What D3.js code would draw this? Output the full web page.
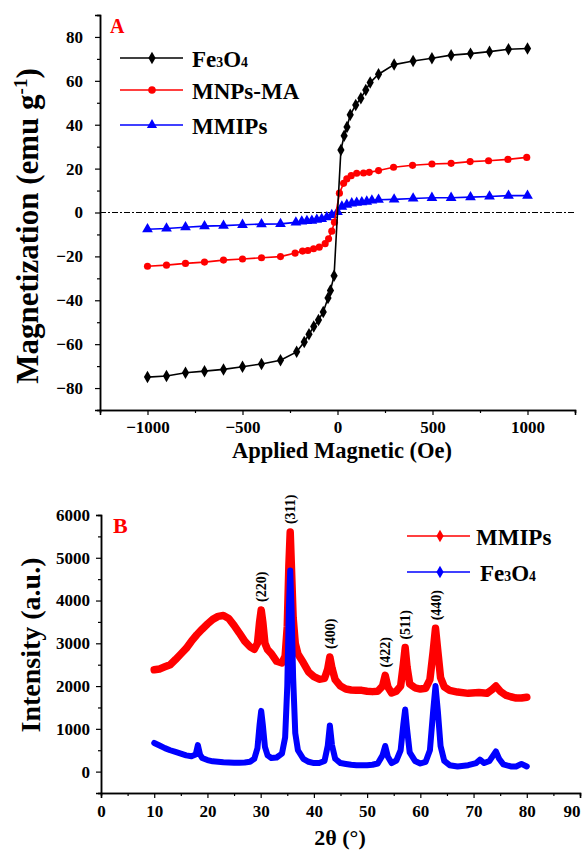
<!DOCTYPE html>
<html>
<head>
<meta charset="UTF-8">
<script src="https://d3js.org/d3.v7.min.js"></script>
<style>
  body { margin: 0; background: #fff; }
  text { font-family: "Liberation Serif", "DejaVu Serif", serif; font-weight: bold; }
</style>
</head>
<body>
<div id="chart"></div>
<script>
// ---- panel A: magnetization loops ----
var fieldFe = [-1000,-900,-800,-700,-600,-500,-400,-300,-215,-175,-150,-125,-100,-75,-50,-37,-18,
               18,35,50,67,96,123,149,172,216,298,398,497,598,700,800,900,1000];
var magFe = [-75,-74.5,-73,-72.3,-71.5,-70.3,-69,-67.3,-63.5,-59,-55.5,-52,-49,-45.3,-39,-35.5,-28.8,
             28.5,35,39,44.5,49,52.1,55.8,59.2,63,67.4,69,70.3,71.7,72.4,73.3,74.4,74.7];

var fieldMA = [-1000,-900,-800,-700,-600,-500,-400,-300,-223,-184,-156,-126,-96,-65,-47,-30,-16,
               10,32,49,72,101,137,167,216,295,395,497,598,698,795,897,996];
var magMA = [-24.5,-24,-23.2,-22.6,-21.7,-21.2,-20.6,-20.1,-18.5,-17.6,-17.3,-16.5,-15.8,-14.2,-12,-8.5,-4.4,
             8.8,13.3,15.3,16.8,17.9,18,18.3,19.1,20.6,21.5,22.1,22.4,23.2,23.6,24.2,25.1];

var fieldMIP = [-1000,-900,-800,-700,-600,-500,-400,-300,-219,-188,-161,-135,-109,-83,-56,-30,
                0,23,49,75,101,128,154,181,216,298,398,497,598,700,800,900,1000];
var magMIP = [-7.6,-7.3,-6.7,-6.2,-6,-5.6,-5.3,-5.2,-4.5,-4.1,-3.8,-3.7,-3.3,-2.9,-2.1,-1.1,
              0.3,2.7,3.6,4.2,4.5,4.7,5,5.5,5.8,6,6.4,6.7,6.7,7,7.3,7.7,7.7];

var xTicksA = [-1000,-500,0,500,1000];
var yTicksA = [-80,-60,-40,-20,0,20,40,60,80];

// ---- panel B: XRD patterns ----
var thetaMIP = [10,11,12,13,14,15,16,17,18,19,20,21,22,23,24,25,26,27,28,28.8,29.4,29.8,30.1,30.4,30.8,31.3,
  32,33,34,34.6,35,35.3,35.55,35.8,36.1,36.5,37,38,39,40,41,42,42.6,43,43.4,44,45,46,47,48,49,50,51,52,
  52.9,53.4,53.9,54.6,55.5,56.3,56.8,57.15,57.5,58,59,60,61,61.8,62.4,62.85,63.3,63.8,64.5,65.5,67,69,71,
  72.5,73.5,74.2,75,76,77,78,79,80];
var intMIP = [2380,2400,2450,2500,2620,2750,2880,3050,3200,3330,3450,3560,3630,3650,3580,3420,3240,3050,2920,2860,3000,3500,3780,3500,3000,2850,
  2760,2580,2540,2700,3400,4800,5600,4700,3600,3000,2750,2550,2330,2220,2160,2180,2400,2680,2420,2150,2000,1930,1910,1900,1900,1880,1870,1880,
  2000,2250,1980,1840,1880,2000,2500,2900,2450,2050,1960,1930,1950,2150,2800,3350,2800,2200,1980,1900,1860,1830,1850,
  1830,1920,2000,1880,1790,1750,1720,1720,1740];

var thetaFe = [10,11,12,13,14,15,16,17,17.8,18.2,18.6,19,20,21,22,23,24,25,26,27,28,28.8,29.4,29.8,30.1,30.4,30.8,31.3,
  32,33,34,34.6,35,35.3,35.55,35.8,36.1,36.5,37,38,39,40,41,42,42.6,43,43.4,44,45,46,47,48,49,50,51,52,
  52.9,53.4,53.9,54.6,55.5,56.3,56.8,57.15,57.5,58,59,60,61,61.8,62.4,62.85,63.3,63.8,64.5,65.5,67,69,70.5,
  71.2,72,73,73.7,74.2,74.8,75.6,77,78,79,80];
var intFe = [670,610,550,500,460,420,380,360,400,620,400,320,270,240,230,220,215,210,210,215,230,300,550,1100,1420,1100,580,380,
  320,330,420,800,2000,3800,4700,3800,2200,900,500,300,230,200,200,250,600,1080,620,300,200,180,160,150,150,150,160,190,
  380,600,350,200,260,500,1100,1450,1000,450,250,190,230,500,1400,2000,1400,600,250,150,120,150,200,
  280,200,250,380,470,300,170,120,120,180,120];

var xTicksB = [0,10,20,30,40,50,60,70,80,90];
var yTicksB = [0,1000,2000,3000,4000,5000,6000];
var peakLabels = ["(220)","(311)","(400)","(422)","(511)","(440)"];
var peakTheta = [30.1,35.55,43,53.4,57.15,62.85];
var peakTop = [3780,5600,2680,2250,2900,3350];

var svg = d3.select("#chart").append("svg").attr("width", 582).attr("height", 851);

function axes(g, x, y, xMajor, xMinor, yMajor, yMinor, xPad, yPad) {
  var x0 = y.range()[0];
  g.append("g").attr("transform", "translate(0," + x0 + ")")
    .call(d3.axisBottom(x).tickValues(xMinor).tickSize(3).tickFormat(""));
  g.append("g").attr("class", "xmaj").attr("transform", "translate(0," + x0 + ")")
    .call(d3.axisBottom(x).tickValues(xMajor).tickSize(5).tickPadding(xPad).tickFormat(d3.format("d")));
  g.append("g").attr("transform", "translate(" + x.range()[0] + ",0)")
    .call(d3.axisLeft(y).tickValues(yMinor).tickSize(3).tickFormat(""));
  g.append("g").attr("transform", "translate(" + x.range()[0] + ",0)")
    .call(d3.axisLeft(y).tickValues(yMajor).tickSize(5).tickPadding(yPad).tickFormat(d3.format("d")));
  g.selectAll(".domain").attr("stroke", "#000").attr("stroke-width", 1.5);
  g.selectAll(".tick line").attr("stroke", "#000").attr("stroke-width", 1.2);
  g.selectAll(".tick text").style("font-family", "Liberation Serif, serif")
    .style("font-weight", "bold").style("font-size", "17px").attr("fill", "#000");
}

function fe3o4(t, x, y, size) {
  var s = t.append("text").attr("x", x).attr("y", y).style("font-size", size + "px");
  s.append("tspan").text("Fe");
  s.append("tspan").text("3").style("font-size", (size * 0.6) + "px");
  s.append("tspan").text("O");
  s.append("tspan").text("4").style("font-size", (size * 0.6) + "px");
  return s;
}

// ===== Panel A =====
var xA = d3.scaleLinear().domain([-1250, 1250]).range([100, 575]);
var yA = d3.scaleLinear().domain([-90, 90]).range([410, 15]);
var gA = svg.append("g");

var xMinorA = d3.range(-1250, 1251, 250).filter(function (v) { return v % 500 !== 0; });
var yMinorA = d3.range(-90, 91, 10).filter(function (v) { return v % 20 !== 0; });
axes(gA, xA, yA, xTicksA, xMinorA, yTicksA, yMinorA, 6, 12);

gA.append("line").attr("x1", xA(-1250)).attr("x2", xA(1250)).attr("y1", yA(0)).attr("y2", yA(0))
  .attr("stroke", "#000").attr("stroke-width", 1).attr("stroke-dasharray", "6,2,2,2");

var lineA = d3.line().x(function (d) { return xA(d[0]); }).y(function (d) { return yA(d[1]); });
var seriesA = [
  { name: "MMIPs", color: "#0000ff", sym: d3.symbolTriangle, size: 50, pts: d3.zip(fieldMIP, magMIP) },
  { name: "MNPs-MA", color: "#ff0000", sym: d3.symbolCircle, size: 40, pts: d3.zip(fieldMA, magMA) },
  { name: "Fe3O4", color: "#000", sym: d3.symbolDiamond, size: 45, pts: d3.zip(fieldFe, magFe) }
];
seriesA.forEach(function (s) {
  gA.append("path").attr("d", lineA(s.pts)).attr("fill", "none")
    .attr("stroke", s.color).attr("stroke-width", 1.6);
  gA.selectAll(null).data(s.pts).enter().append("path")
    .attr("d", d3.symbol().type(s.sym).size(s.size))
    .attr("transform", function (d) { return "translate(" + xA(d[0]) + "," + yA(d[1]) + ")"; })
    .attr("fill", s.color);
});

gA.append("text").attr("x", 110).attr("y", 33).attr("fill", "#ff0000").style("font-size", "20px").text("A");

var legA = [
  { label: "Fe3O4", color: "#000", sym: d3.symbolDiamond, y: 58 },
  { label: "MNPs-MA", color: "#ff0000", sym: d3.symbolCircle, y: 90 },
  { label: "MMIPs", color: "#0000ff", sym: d3.symbolTriangle, y: 125 }
];
legA.forEach(function (l) {
  gA.append("line").attr("x1", 120).attr("x2", 183).attr("y1", l.y).attr("y2", l.y)
    .attr("stroke", l.color).attr("stroke-width", 1.6);
  gA.append("path").attr("d", d3.symbol().type(l.sym).size(45)())
    .attr("transform", "translate(152," + l.y + ")").attr("fill", l.color);
  if (l.label === "Fe3O4") fe3o4(gA, 192, l.y + 9, 23);
  else gA.append("text").attr("x", 192).attr("y", l.y + 9).style("font-size", "23px").text(l.label);
});

gA.append("text").attr("x", 342).attr("y", 458).attr("text-anchor", "middle")
  .style("font-size", "22.5px").text("Applied Magnetic (Oe)");
var ttlA = gA.append("text").attr("transform", "translate(38,226) rotate(-90)")
  .attr("text-anchor", "middle").style("font-size", "31px");
ttlA.append("tspan").text("Magnetization (emu g");
ttlA.append("tspan").text("-1").attr("dy", -11).style("font-size", "19px");
ttlA.append("tspan").text(")").attr("dy", 11);

// ===== Panel B =====
var xB = d3.scaleLinear().domain([0, 90]).range([101, 580]);
var yB = d3.scaleLinear().domain([-500, 6000]).range([793, 515]);
var gB = svg.append("g");

var xMinorB = d3.range(5, 90, 10);
var yMinorB = d3.range(-500, 6000, 1000);
axes(gB, xB, yB, xTicksB, xMinorB, yTicksB, yMinorB, 7, 6);
// last tick label sits at the page edge; keep it inside the frame
gB.selectAll(".xmaj .tick text").filter(function (d) { return d === 90; })
  .attr("text-anchor", "end").attr("dx", 0);

var lineB = d3.line().x(function (d) { return xB(d[0]); }).y(function (d) { return yB(d[1]); });
gB.append("path").attr("d", lineB(d3.zip(thetaMIP, intMIP))).attr("fill", "none")
  .attr("stroke", "#ff0000").attr("stroke-width", 7.5).attr("stroke-linejoin", "round").attr("stroke-linecap", "round");
gB.append("path").attr("d", lineB(d3.zip(thetaFe, intFe))).attr("fill", "none")
  .attr("stroke", "#0000ff").attr("stroke-width", 6).attr("stroke-linejoin", "round").attr("stroke-linecap", "round");

peakLabels.forEach(function (p, i) {
  gB.append("text")
    .attr("transform", "translate(" + (xB(peakTheta[i]) + 5) + "," + (yB(peakTop[i]) - 8) + ") rotate(-90)")
    .style("font-size", "14px").text(p);
});

gB.append("text").attr("x", 113).attr("y", 533).attr("fill", "#ff0000").style("font-size", "22px").text("B");

var legB = [
  { label: "MMIPs", color: "#ff0000", y: 536 },
  { label: "Fe3O4", color: "#0000ff", y: 572 }
];
legB.forEach(function (l) {
  gB.append("line").attr("x1", 407).attr("x2", 470).attr("y1", l.y).attr("y2", l.y)
    .attr("stroke", l.color).attr("stroke-width", 1.6);
  gB.append("path").attr("d", d3.symbol().type(d3.symbolDiamond).size(45)())
    .attr("transform", "translate(440," + l.y + ")").attr("fill", l.color);
  if (l.label === "Fe3O4") fe3o4(gB, 480, l.y + 9, 23);
  else gB.append("text").attr("x", 476).attr("y", l.y + 9).style("font-size", "23px").text(l.label);
});

gB.append("text").attr("x", 340).attr("y", 845).attr("text-anchor", "middle")
  .style("font-size", "22px").text("2θ (°)");
gB.append("text").attr("transform", "translate(40,645) rotate(-90)")
  .attr("text-anchor", "middle").style("font-size", "28px").text("Intensity (a.u.)");
</script>
</body>
</html>
